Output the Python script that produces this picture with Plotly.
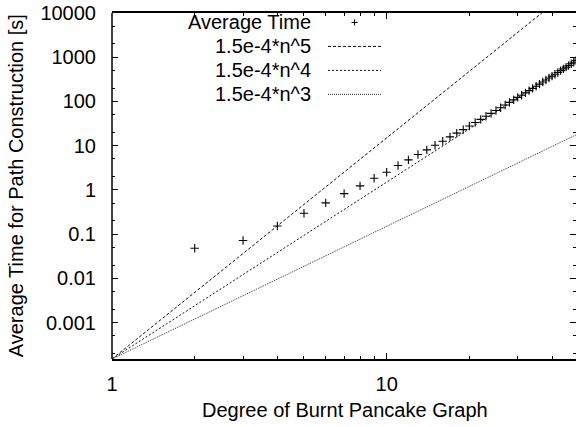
import math
import plotly.graph_objects as go

# ---------------- data ----------------
n_values = list(range(2, 51))
avg_time = [0.048, 0.072, 0.153, 0.296, 0.508, 0.824, 1.23, 1.83, 2.50, 3.55,
            4.77, 6.29, 8.03, 10.2, 12.6, 15.8, 19.2, 23.0, 27.8, 33.4, 39.4,
            46.2, 53.8, 62.5, 72.3, 83.2, 95.3, 108.8, 123.5,
            138.6, 156.5, 176.1, 197.8, 221.3, 246.9, 274.8, 305.0, 337.9, 373.4,
            411.7, 452.6, 497.4, 545.3, 596.4, 651.5, 710.3, 772.7, 840.6, 912.7]

fit_coef = 1.5e-4
fit_exponents = [5, 4, 3]
fit_labels = ["1.5e-4*n^5", "1.5e-4*n^4", "1.5e-4*n^3"]
fit_x = [1, 50]

x_tickvals = [1, 10]
x_ticktext = ["1", "10"]
x_minor = [2, 3, 4, 5, 6, 7, 8, 9, 20, 30, 40, 50]
y_tickvals = [0.001, 0.01, 0.1, 1, 10, 100, 1000, 10000]
y_ticktext = ["0.001", "0.01", "0.1", "1", "10", "100", "1000", "10000"]
y_minor = [2e-4, 5e-4, 2e-3, 5e-3, 2e-2, 5e-2, 0.2, 0.5, 2, 5, 20, 50,
           200, 500, 2000, 5000]

x_range_max = 48.9
y_range = [fit_coef, 10000]

# ---------------- geometry ----------------
W, H = 576, 427
ML, MT, MB, MR = 112, 12.5, 68, 0
PW = W - ML - MR
PH = H - MT - MB
FONT = "Liberation Sans, Arial, Helvetica, sans-serif"
FS = 20


def px_x(px):
    return (px - ML) / PW


def px_y(py):
    return (H - MB - py) / PH


fig = go.Figure()

fig.add_trace(go.Scatter(
    x=n_values, y=avg_time, mode="markers",
    marker=dict(symbol="cross-thin", size=6,
                line=dict(width=1.1, color="black"), color="black"),
    showlegend=False))

dashes = ["3px,2px", "2px,2px", "1px,1px"]
colors = ["#111111", "#111111", "#333333"]
for k, d, c in zip(fit_exponents, dashes, colors):
    fig.add_trace(go.Scatter(
        x=fit_x, y=[fit_coef * xv ** k for xv in fit_x], mode="lines",
        line=dict(color=c, width=1, dash=d), showlegend=False))

axis_common = dict(
    type="log", showgrid=False, zeroline=False, automargin=False,
    ticks="inside", ticklen=6, tickwidth=1, tickcolor="black",
    tickfont=dict(family=FONT, size=FS, color="black"),
    mirror="ticks",
)

fig.update_xaxes(
    **axis_common,
    range=[0, math.log10(x_range_max)],
    tickmode="array", tickvals=x_tickvals, ticktext=x_ticktext,
    showline=True, linecolor="black", linewidth=1.5,
    ticklabelstandoff=6,
    minor=dict(tickmode="array", tickvals=x_minor, ticks="inside", ticklen=3,
               tickcolor="black", tickwidth=1, showgrid=False),
)
fig.update_yaxes(
    **axis_common,
    range=[math.log10(y_range[0]), math.log10(y_range[1])],
    tickmode="array", tickvals=y_tickvals, ticktext=y_ticktext,
    showline=False,
    ticklabelstandoff=15,
    minor=dict(tickmode="array", tickvals=y_minor, ticks="inside", ticklen=3,
               tickcolor="black", tickwidth=1, showgrid=False),
)

shapes = [dict(type="line", xref="paper", yref="paper", x0=0, x1=0, y0=0, y1=1,
               line=dict(color="black", width=1.5))]
annotations = [
    dict(text="Degree of Burnt Pancake Graph", xref="paper", yref="paper",
         x=px_x(345), y=px_y(410), xanchor="center", yanchor="middle",
         showarrow=False, font=dict(family=FONT, size=FS, color="black")),
    dict(text="Average Time for Path Construction [s]", xref="paper", yref="paper",
         x=px_x(16), y=px_y(186), xanchor="center", yanchor="middle",
         textangle=-90, showarrow=False,
         font=dict(family=FONT, size=FS, color="black")),
]

# legend (text right-justified, sample to the right, gnuplot style)
legend_labels = ["Average Time"] + fit_labels
row_y = [22, 46, 70, 94]
text_right = 313
sample_x0, sample_x1 = 328, 381
for i, (lab, ry) in enumerate(zip(legend_labels, row_y)):
    annotations.append(dict(text=lab, xref="paper", yref="paper",
                            x=px_x(text_right), y=px_y(ry), xanchor="right",
                            yanchor="middle", showarrow=False,
                            font=dict(family=FONT, size=FS, color="black")))
    if i == 0:
        cx = (sample_x0 + sample_x1) / 2
        shapes.append(dict(type="line", xref="paper", yref="paper",
                           x0=px_x(cx - 3), x1=px_x(cx + 3), y0=px_y(ry), y1=px_y(ry),
                           line=dict(color="black", width=1)))
        shapes.append(dict(type="line", xref="paper", yref="paper",
                           x0=px_x(cx), x1=px_x(cx), y0=px_y(ry - 3), y1=px_y(ry + 3),
                           line=dict(color="black", width=1)))
    else:
        shapes.append(dict(type="line", xref="paper", yref="paper",
                           x0=px_x(sample_x0), x1=px_x(sample_x1),
                           y0=px_y(ry), y1=px_y(ry),
                           line=dict(color=colors[i - 1], width=1, dash=dashes[i - 1])))

fig.update_layout(
    width=W, height=H, autosize=False,
    margin=dict(l=ML, r=MR, t=MT, b=MB, pad=0),
    paper_bgcolor="white", plot_bgcolor="white",
    showlegend=False, shapes=shapes, annotations=annotations,
    font=dict(family=FONT, size=FS, color="black"),
)

fig.write_html("out.html",
               config={"displayModeBar": False},
               post_script="document.body.style.margin='0';"
                           "document.body.style.overflow='hidden';")
